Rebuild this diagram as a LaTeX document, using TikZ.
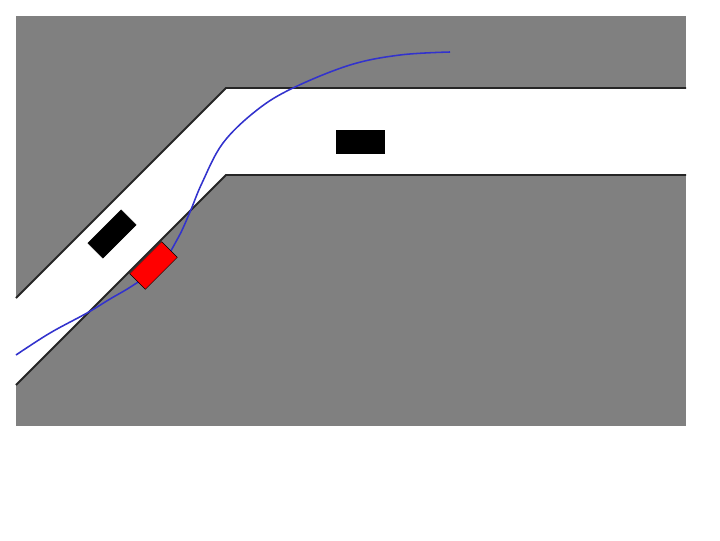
\documentclass[tikz,border=0pt]{standalone}
\usepackage{xcolor}
\usepackage{tikz}
\usetikzlibrary{positioning}

\definecolor{ground}{RGB}{128,128,128}
\definecolor{pathblue}{RGB}{50,50,205}

\begin{document}
\begin{tikzpicture}[
    x=0.025cm, y=-0.025cm,
    edge/.style={draw=black!85, line width=1.4pt, line join=miter},
    car/.style={draw=black, fill=black, rectangle, inner sep=0pt, line width=0.3pt},
    egocar/.style={car, fill=red},
    trajectory/.style={draw=pathblue, line width=1.1pt}
]
\useasboundingbox (0,0) rectangle (720,540);

% Off-road area
\fill[ground] (16,16) rectangle (686,426);

% Road
\fill[white] (16,298) -- (226,88) -- (686,88) -- (686,175) -- (226,175) -- (16,385) -- cycle;
\draw[edge] (16,298) -- (226,88) -- (686,88);
\draw[edge] (16,385) -- (226,175) -- (686,175);

% Planned path
\draw[trajectory] plot[smooth, tension=0.6] coordinates {
    (16,355) (50,333) (87,313) (110,299) (132,286) (160,266)
    (178,238) (190,212) (202,183) (223,143) (257,110) (293,88)
    (350,65) (400,55) (450,52)};

% Vehicles
\node[car, minimum width=1.175cm, minimum height=0.53cm, rotate=45] (carA) at (112,234) {};
\node[egocar, minimum width=1.13cm, minimum height=0.55cm, rotate=45] (ego) at (153.5,265.5) {};
\node[car, minimum width=1.2cm, minimum height=0.575cm] (carB) at (360,141.5) {};
\end{tikzpicture}
\end{document}
